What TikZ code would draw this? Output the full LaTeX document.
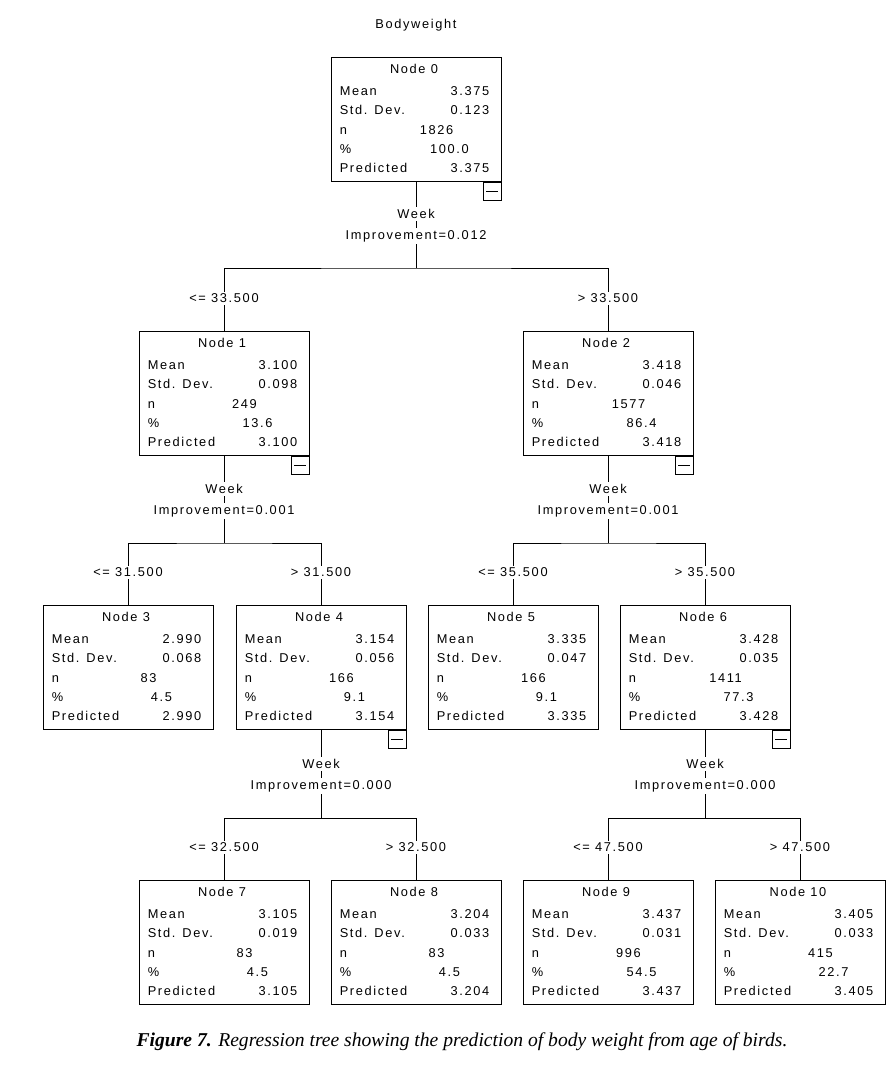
\documentclass[tikz,border=0pt]{standalone}
\usepackage{fontspec}
\setmainfont{Liberation Sans}
\newfontfamily\spssfont{Liberation Sans}[LetterSpace=13]
\newfontfamily\capfont{Liberation Serif}
\usetikzlibrary{calc}
\tikzset{
  box/.style={draw,line width=0.75pt,minimum width=127.5pt,minimum height=93pt,inner sep=0pt},
  txt/.style={inner sep=0pt,font={\spssfont\fontsize{9.6}{11}\selectfont}},
  lab/.style={txt,fill=white,inner sep=1.5pt},
  edge/.style={line width=0.75pt},
  cbox/.style={draw,line width=0.75pt,minimum size=13.5pt,inner sep=0pt,anchor=north east,
    path picture={\draw[line width=0.75pt] ([xshift=2.5pt]path picture bounding box.west) -- ([xshift=-2.5pt]path picture bounding box.east);}}
}
% #1 name, #2 cx, #3 top, #4 num, #5 mean, #6 sd, #7 n, #8 pct, #9 pred
\newcommand\treenode[9]{%
  \node[box] (#1) at (#2,#3+62) {};
  \node[txt,anchor=base] (#1-t) at ($(#1.north)+(-2,17)$) {Node #4};
  \node[txt,anchor=base west] (#1-a) at ($(#1.north west)+(9,38.5)$) {Mean};
  \node[txt,anchor=base west] (#1-b) at ($(#1.north west)+(9,58)$) {Std. Dev.};
  \node[txt,anchor=base west] (#1-c) at ($(#1.north west)+(9,77.5)$) {n};
  \node[txt,anchor=base west] (#1-d) at ($(#1.north west)+(9,96.5)$) {\%};
  \node[txt,anchor=base west] (#1-e) at ($(#1.north west)+(9,115.5)$) {Predicted};
  \node[txt,anchor=base east] (#1-av) at ($(#1.north east)+(-12,38.5)$) {#5};
  \node[txt,anchor=base east] (#1-bv) at ($(#1.north east)+(-12,58)$) {#6};
  \node[txt,anchor=base] (#1-cv) at ($(#1.north west)+(106,77.5)$) {#7};
  \node[txt,anchor=base] (#1-dv) at ($(#1.north west)+(119,96.5)$) {#8};
  \node[txt,anchor=base east] (#1-ev) at ($(#1.north east)+(-12,115.5)$) {#9};
}
\newcommand\collapse[1]{\node[cbox] (#1-cb) at (#1.south east) {};}
% #1 parent, #2 left, #3 right, #4 cx, #5 week y, #6 improvement, #7 left label, #8 right label
\newcommand\splitat[8]{%
  \coordinate (#1-bar) at (#4,#5+55);
  \draw[edge] (#1.south) -- (#1-bar);
  \draw[edge] (#2.north) |- (#1-bar) -| (#3.north);
  \node[lab] (#1-w) at (#4,#5+1) {Week};
  \node[lab] (#1-i) at (#4,#5+23) {Improvement=#6};
  \node[lab] (#1-l) at ($(#2.north)+(0,-32)$) {#7};
  \node[lab] (#1-r) at ($(#3.north)+(0,-32)$) {#8};
}
\begin{document}
\begin{tikzpicture}[x=0.75pt,y=-0.75pt]
\useasboundingbox[fill=white] (0,0) rectangle (890,1067);
\node[txt] (title) at (416,25) {Bodyweight};
\treenode{n0}{416}{57}{0}{3.375}{0.123}{1826}{100.0}{3.375}
\treenode{n1}{224}{331}{1}{3.100}{0.098}{249}{13.6}{3.100}
\treenode{n2}{608}{331}{2}{3.418}{0.046}{1577}{86.4}{3.418}
\treenode{n3}{128}{605}{3}{2.990}{0.068}{83}{4.5}{2.990}
\treenode{n4}{321}{605}{4}{3.154}{0.056}{166}{9.1}{3.154}
\treenode{n5}{513}{605}{5}{3.335}{0.047}{166}{9.1}{3.335}
\treenode{n6}{705}{605}{6}{3.428}{0.035}{1411}{77.3}{3.428}
\treenode{n7}{224}{880}{7}{3.105}{0.019}{83}{4.5}{3.105}
\treenode{n8}{416}{880}{8}{3.204}{0.033}{83}{4.5}{3.204}
\treenode{n9}{608}{880}{9}{3.437}{0.031}{996}{54.5}{3.437}
\treenode{n10}{800}{880}{10}{3.405}{0.033}{415}{22.7}{3.405}
\collapse{n0}\collapse{n1}\collapse{n2}\collapse{n4}\collapse{n6}
\splitat{n0}{n1}{n2}{416}{213}{0.012}{<= 33.500}{> 33.500}
\splitat{n1}{n3}{n4}{224}{488}{0.001}{<= 31.500}{> 31.500}
\splitat{n2}{n5}{n6}{608}{488}{0.001}{<= 35.500}{> 35.500}
\splitat{n4}{n7}{n8}{321}{763}{0.000}{<= 32.500}{> 32.500}
\splitat{n6}{n9}{n10}{705}{763}{0.000}{<= 47.500}{> 47.500}
\node[inner sep=0pt,font={\capfont\fontsize{14.7}{17}\selectfont}] (caption) at (462,1042)
  {\textbf{\textit{Figure 7.}} \textit{Regression tree showing the prediction of body weight from age of birds.}};
\end{tikzpicture}
\end{document}
